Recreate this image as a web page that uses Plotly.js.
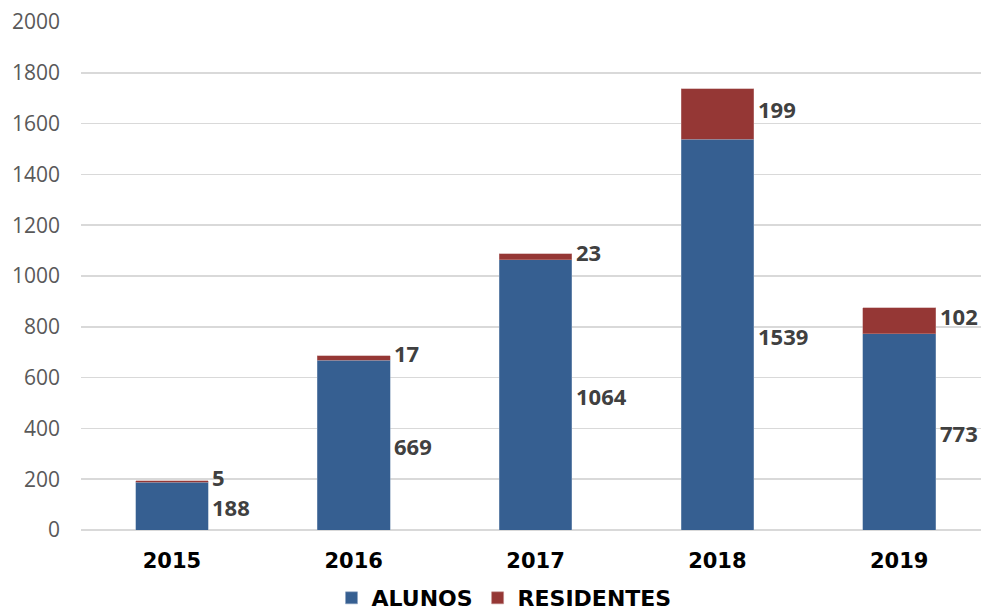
<!DOCTYPE html>
<html>
<head>
<meta charset="utf-8">
<script src="https://cdn.plot.ly/plotly-3.0.1.min.js"></script>
<style>html,body{margin:0;padding:0;background:#fff;}#chart{width:981px;height:612px;}</style>
</head>
<body>
<div id="chart"></div>
<script>
var years = ["2015", "2016", "2017", "2018", "2019"];
var alunos = [188, 669, 1064, 1539, 773];
var residentes = [5, 17, 23, 199, 102];
var yTicks = [0, 200, 400, 600, 800, 1000, 1200, 1400, 1600, 1800, 2000];

var blue = "#365F91", red = "#953735";
var barW = 0.4;

var traces = [
  {type: "bar", name: "ALUNOS", x: years, y: alunos, width: barW,
   marker: {color: blue, line: {color: "#8CA3C0", width: 0.5}}, hoverinfo: "none"},
  {type: "bar", name: "RESIDENTES", x: years, y: residentes, width: barW,
   marker: {color: red, line: {color: "#C08A89", width: 0.5}}, hoverinfo: "none"}
];

var annotations = [];
var lblFont = {family: "Noto Sans, sans-serif", size: 22, color: "#404040", weight: "bold"};
years.forEach(function (yr, i) {
  annotations.push({x: i + barW / 2, y: alunos[i] / 2, xref: "x", yref: "y",
    text: "<b>" + alunos[i] + "</b>", showarrow: false, xanchor: "left", yanchor: "middle",
    xshift: 3, yshift: -1, borderpad: 0, font: lblFont});
  annotations.push({x: i + barW / 2, y: alunos[i] + residentes[i] / 2, xref: "x", yref: "y",
    text: "<b>" + residentes[i] + "</b>", showarrow: false, xanchor: "left", yanchor: "middle",
    xshift: 3, yshift: 5, borderpad: 0, font: lblFont});
});

var layout = {
  width: 981, height: 612,
  margin: {l: 81, r: 0, t: 22, b: 82, autoexpand: false},
  paper_bgcolor: "#ffffff", plot_bgcolor: "#ffffff",
  barmode: "stack",
  showlegend: true,
  legend: {orientation: "h", x: 0.47, xanchor: "center", y: -0.134, yanchor: "middle",
    font: {family: "DejaVu Sans, sans-serif", size: 22, color: "#000000", weight: "bold"},
    traceorder: "normal", bgcolor: "rgba(0,0,0,0)"},
  xaxis: {type: "category", range: [-0.5, 4.45], showgrid: false, zeroline: false,
    showline: false, ticks: "", ticklabelstandoff: 16,
    tickfont: {family: "DejaVu Sans, sans-serif", size: 21, color: "#000000", weight: "bold"}},
  yaxis: {range: [0, 2000], tickvals: yTicks, ticktext: yTicks.map(String),
    showgrid: true, gridcolor: "#D9D9D9", gridwidth: 1.5,
    zeroline: true, zerolinecolor: "#D9D9D9", zerolinewidth: 1.5,
    showline: false, ticks: "", ticklabelstandoff: 20,
    tickfont: {family: "Open Sans, sans-serif", size: 21, color: "#595959"}},
  annotations: annotations
};

Plotly.newPlot("chart", traces, layout, {displayModeBar: false, staticPlot: true});
</script>
</body>
</html>
